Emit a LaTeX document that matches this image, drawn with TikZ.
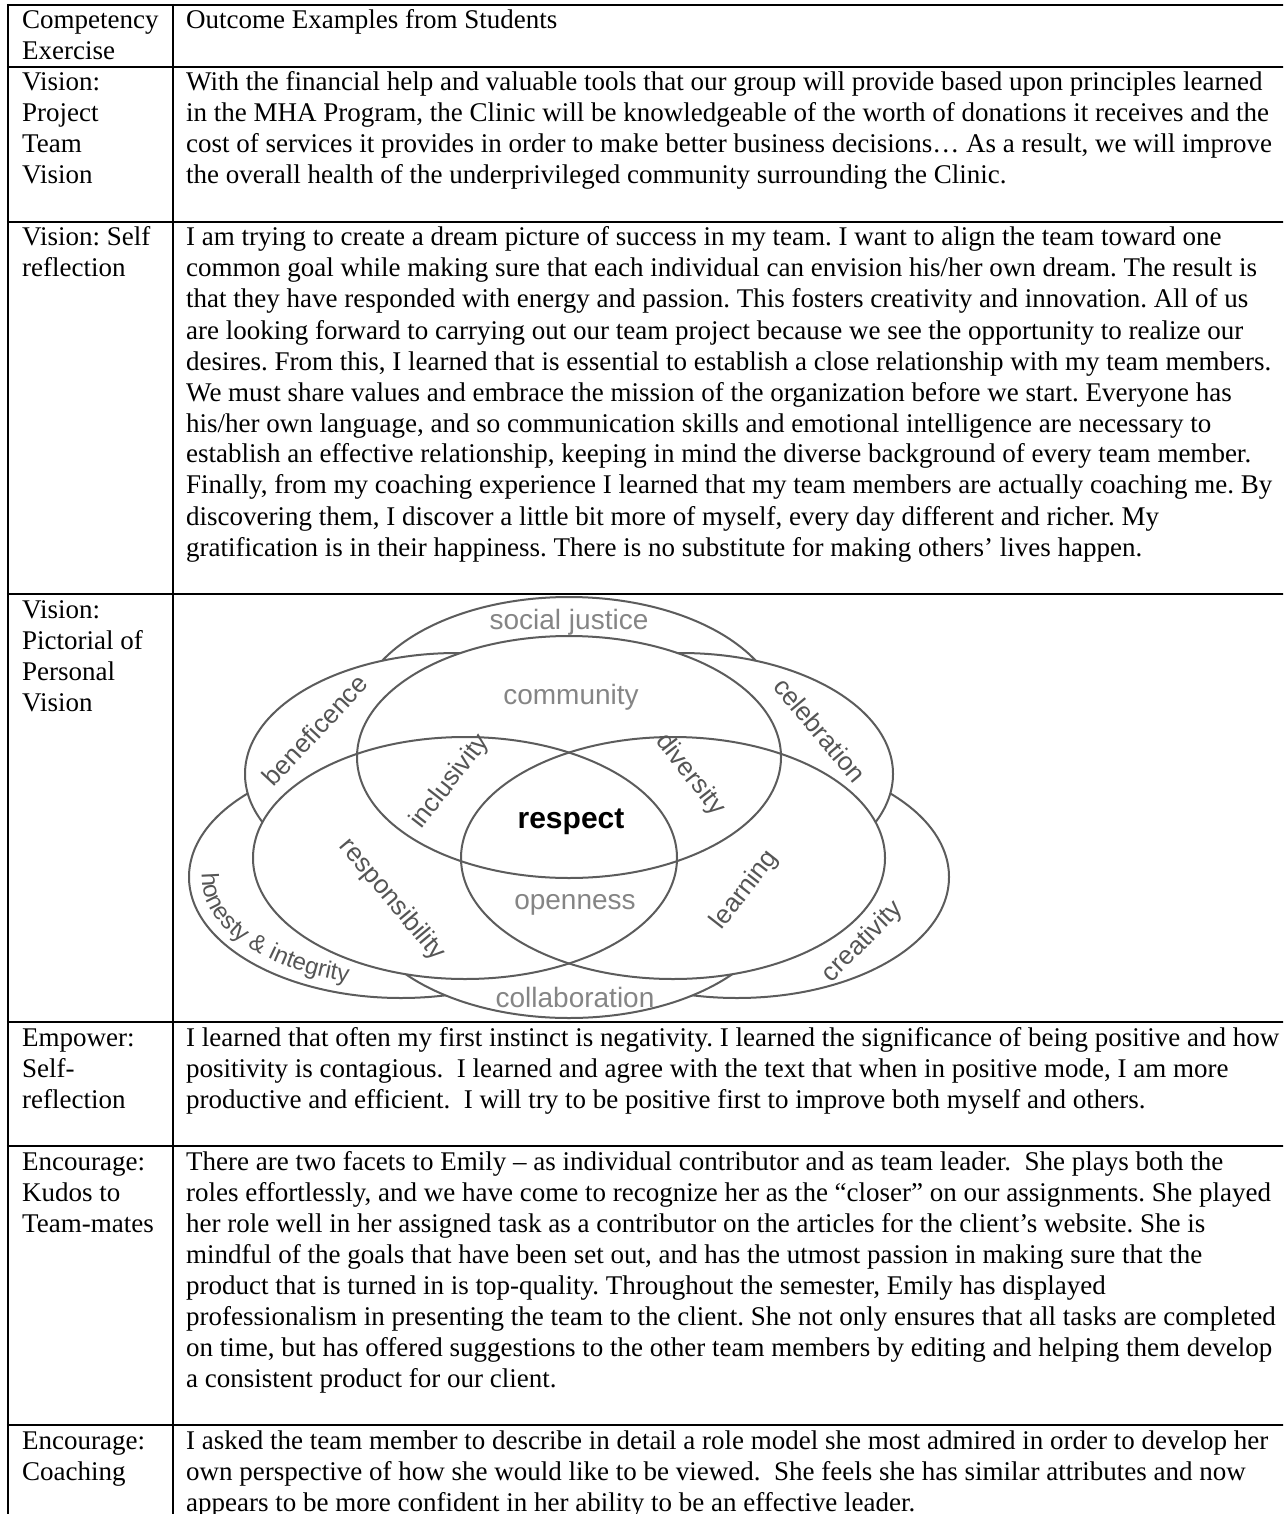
\documentclass[tikz,border=0pt]{standalone}
\usepackage{fontspec}
\setmainfont{Liberation Serif}
\newfontfamily\labelsans{Liberation Sans}
\usetikzlibrary{decorations.text}
\definecolor{ringline}{HTML}{5C5C5C}
\definecolor{lightlab}{HTML}{858585}
\definecolor{darklab}{HTML}{555555}
\newcommand{\cellrows}[1]{\begin{tabular}[t]{@{}l@{}}#1\end{tabular}}
\frenchspacing
\begin{document}
\begin{tikzpicture}[x=1pt,y=1pt,
  rule/.style={line width=2.2pt, black},
  cellbody/.style={anchor=base west, inner sep=0pt, font=\fontsize{27}{31}\selectfont},
  ring/.style={draw=ringline, line width=2pt, fill=white},
  ringedge/.style={draw=ringline, line width=2pt},
  lightlabel/.style={text=lightlab, inner sep=0pt, font=\labelsans\fontsize{28}{30}\selectfont},
  darklabel/.style={text=darklab, inner sep=0pt, font=\labelsans\fontsize{26}{30}\selectfont},
]
\useasboundingbox (0,0) rectangle (1283,-1514);
\clip (0,0) rectangle (1283,-1514);
\fill[white] (0,0) rectangle (1283,-1514);

% ---------- table rules ----------
\foreach \yy in {5,67,222,594,1022,1146,1425}
  \draw[rule] (6.9,-\yy) -- (1290,-\yy);
\draw[rule] (8,-3.9) -- (8,-1520);
\draw[rule] (173,-3.9) -- (173,-1520);

% ---------- header ----------
\node[cellbody] (hleft)  at (22,-29)  {\cellrows{Competency\\Exercise}};
\node[cellbody] (hright) at (186,-29) {\cellrows{Outcome Examples from Students}};

% ---------- row 1 ----------
\node[cellbody] (r1left) at (22,-91) {\cellrows{Vision:\\Project\\Team\\Vision}};
\node[cellbody] (r1text) at (186,-91) {\cellrows{%
With the financial help and valuable tools that our group will provide based upon principles learned\\
in the MHA Program, the Clinic will be knowledgeable of the worth of donations it receives and the\\
cost of services it provides in order to make better business decisions… As a result, we will improve\\
the overall health of the underprivileged community surrounding the Clinic.}};

% ---------- row 2 ----------
\node[cellbody] (r2left) at (22,-246) {\cellrows{Vision: Self\\reflection}};
\node[cellbody] (r2text) at (186,-246) {\cellrows{%
I am trying to create a dream picture of success in my team. I want to align the team toward one\\
common goal while making sure that each individual can envision his/her own dream. The result is\\
that they have responded with energy and passion. This fosters creativity and innovation. All of us\\
are looking forward to carrying out our team project because we see the opportunity to realize our\\
desires. From this, I learned that is essential to establish a close relationship with my team members.\\
We must share values and embrace the mission of the organization before we start. Everyone has\\
his/her own language, and so communication skills and emotional intelligence are necessary to\\
establish an effective relationship, keeping in mind the diverse background of every team member.\\
Finally, from my coaching experience I learned that my team members are actually coaching me. By\\
discovering them, I discover a little bit more of myself, every day different and richer. My\\
gratification is in their happiness. There is no substitute for making others’ lives happen.}};

% ---------- row 3: personal vision diagram ----------
\node[cellbody] (r3left) at (22,-618) {\cellrows{Vision:\\Pictorial of\\Personal\\Vision}};

\coordinate (cSJ) at (569,-718);
\coordinate (cHO) at (401,-877);
\coordinate (cCR) at (737,-877);
\coordinate (cBE) at (457,-774);
\coordinate (cCE) at (681,-774);
\coordinate (cCL) at (569,-897);
\coordinate (cCM) at (569,-757);
\coordinate (cLE) at (465,-858);
\coordinate (cRI) at (673,-858);

% outer ring, back layer
\path[ring] (cSJ) ellipse [x radius=212pt, y radius=121pt];
\path[ring] (cHO) ellipse [x radius=212pt, y radius=121pt];
\path[ring] (cCR) ellipse [x radius=212pt, y radius=121pt];
% outer ring, front layer
\path[ring] (cBE) ellipse [x radius=212pt, y radius=121pt];
\path[ring] (cCE) ellipse [x radius=212pt, y radius=121pt];
\path[ring] (cCL) ellipse [x radius=212pt, y radius=121pt];
% three inner ellipses: fills first, then all outlines
\fill[white] (cCM) ellipse [x radius=212pt, y radius=121pt];
\fill[white] (cLE) ellipse [x radius=212pt, y radius=121pt];
\fill[white] (cRI) ellipse [x radius=212pt, y radius=121pt];
\path[ringedge] (cCM) ellipse [x radius=212pt, y radius=121pt];
\path[ringedge] (cLE) ellipse [x radius=212pt, y radius=121pt];
\path[ringedge] (cRI) ellipse [x radius=212pt, y radius=121pt];

% labels
\node[lightlabel] (lsj)  at (569,-622) {social justice};
\node[lightlabel] (lcom) at (571,-697) {community};
\node[lightlabel] (lope) at (575,-905) {openness};
\node[lightlabel] (lcol) at (575,-997) {collaboration};
\node[inner sep=0pt, font=\labelsans\bfseries\fontsize{30}{32}\selectfont] (lres) at (571,-822) {respect};
\node[darklabel, rotate=47]  (lben) at (315,-730) {beneficence};
\node[darklabel, rotate=52]  (linc) at (450,-782) {inclusivity};
\node[darklabel, rotate=-52] (ldiv) at (690,-775) {diversity};
\node[darklabel, rotate=-50] (lcel) at (820,-730) {celebration};
\node[darklabel, rotate=-50] (lrsp) at (392,-900) {responsibility};
\node[darklabel, rotate=52]  (llea) at (745,-890) {learning};
\node[darklabel, rotate=45]  (lcre) at (863,-942) {creativity};
\path[decorate, decoration={text along path, text align=center,
  text={|\labelsans\fontsize{24}{28}\selectfont\color{darklab}|honesty {\&} integrity}}]
  (cHO) ++(160:199pt and 109pt) arc [start angle=160, end angle=265, x radius=199pt, y radius=109pt];

% ---------- row 4 ----------
\node[cellbody] (r4left) at (22,-1046) {\cellrows{Empower:\\Self-\\reflection}};
\node[cellbody] (r4text) at (186,-1046) {\cellrows{%
I learned that often my first instinct is negativity. I learned the significance of being positive and how\\
positivity is contagious.\ \ I learned and agree with the text that when in positive mode, I am more\\
productive and efficient.\ \ I will try to be positive first to improve both myself and others.}};

% ---------- row 5 ----------
\node[cellbody] (r5left) at (22,-1170) {\cellrows{Encourage:\\Kudos to\\Team-mates}};
\node[cellbody] (r5text) at (186,-1170) {\cellrows{%
There are two facets to Emily – as individual contributor and as team leader.\ \ She plays both the\\
roles effortlessly, and we have come to recognize her as the “closer” on our assignments. She played\\
her role well in her assigned task as a contributor on the articles for the client’s website. She is\\
mindful of the goals that have been set out, and has the utmost passion in making sure that the\\
product that is turned in is top-quality. Throughout the semester, Emily has displayed\\
professionalism in presenting the team to the client. She not only ensures that all tasks are completed\\
on time, but has offered suggestions to the other team members by editing and helping them develop\\
a consistent product for our client.}};

% ---------- row 6 ----------
\node[cellbody] (r6left) at (22,-1449) {\cellrows{Encourage:\\Coaching}};
\node[cellbody] (r6text) at (186,-1449) {\cellrows{%
I asked the team member to describe in detail a role model she most admired in order to develop her\\
own perspective of how she would like to be viewed.\ \ She feels she has similar attributes and now\\
appears to be more confident in her ability to be an effective leader.}};
\end{tikzpicture}
\end{document}
